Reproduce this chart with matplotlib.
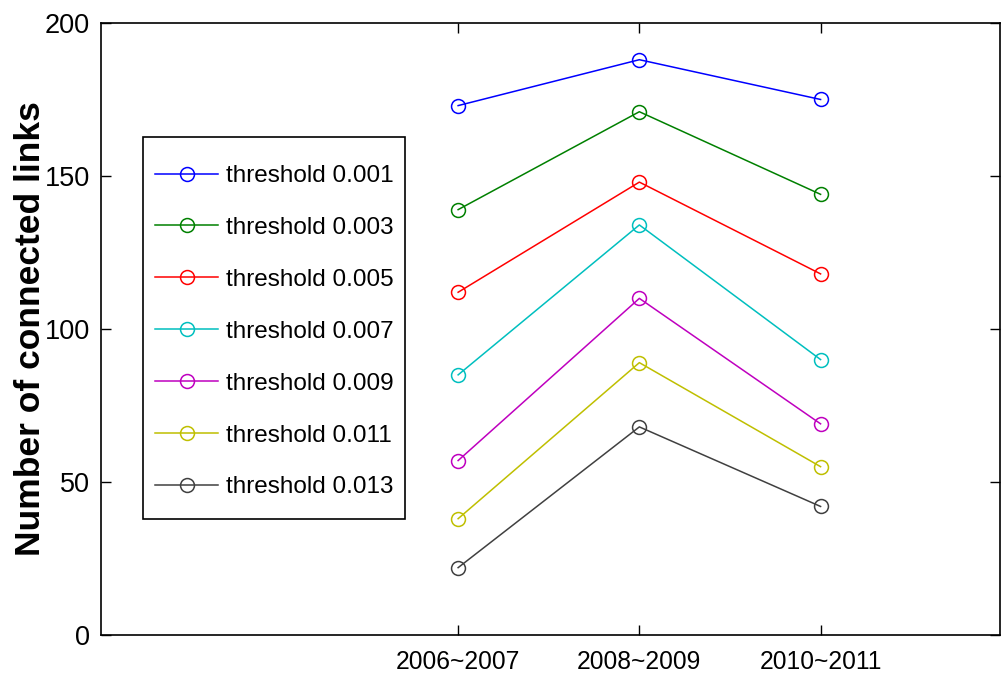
import matplotlib
matplotlib.use("Agg")
import matplotlib.pyplot as plt
from matplotlib.patches import Rectangle

# periods and number of connected links per threshold
periods = ["2006~2007", "2008~2009", "2010~2011"]
thresholds = ["threshold 0.001", "threshold 0.003", "threshold 0.005", "threshold 0.007",
              "threshold 0.009", "threshold 0.011", "threshold 0.013"]
links_001 = [173, 188, 175]
links_003 = [139, 171, 144]
links_005 = [112, 148, 118]
links_007 = [85, 134, 90]
links_009 = [57, 110, 69]
links_011 = [38, 89, 55]
links_013 = [22, 68, 42]
series = [links_001, links_003, links_005, links_007, links_009, links_011, links_013]

# old matlab line colours
colors = [(0, 0, 1), (0, 0.5, 0), (1, 0, 0), (0, 0.75, 0.75),
          (0.75, 0, 0.75), (0.75, 0.75, 0), (0.25, 0.25, 0.25)]

xpos = [2, 3, 4]
fam = ["Liberation Sans", "DejaVu Sans"]

fig = plt.figure(figsize=(10.01, 6.76), dpi=100)
ax = fig.add_axes([0.101, 0.0607, 0.898, 0.9053])

for vals, lab, col in zip(series, thresholds, colors):
    ax.plot(xpos, vals, color=col, linewidth=1.1, marker="o", markersize=10,
            markerfacecolor="none", markeredgewidth=1.1, label=lab)

ax.set_xlim(0.03, 4.99)
ax.set_ylim(0, 200)
ax.set_xticks(xpos)
ax.set_xticklabels(periods, family=fam, fontsize=17.7)
ax.set_yticks([0, 50, 100, 150, 200])
ax.set_yticklabels(["0", "50", "100", "150", "200"], family=fam, fontsize=19.5)
ax.tick_params(direction="in", top=True, right=True, length=7, width=1)
ax.tick_params(axis="x", pad=11)
ax.tick_params(axis="y", pad=8)
for s in ax.spines.values():
    s.set_linewidth(1.2)

ax.set_ylabel("Number of connected links", fontsize=25.5, fontweight="bold", family=fam)
ax.yaxis.set_label_coords(-0.06, 0.5)

# legend box drawn by hand so it can be taller than the default padding gives
ax.add_patch(Rectangle((0.0467, 0.190), 0.2914, 0.624, transform=ax.transAxes,
                       facecolor="white", edgecolor="black", linewidth=1.2, zorder=4))
leg = ax.legend(loc="center left", bbox_to_anchor=(0.0467, 0.4955), frameon=False,
                borderaxespad=0, prop={"family": fam, "size": 17.5},
                handlelength=2.6, labelspacing=1.23, handletextpad=0.3, borderpad=0.5)
leg.set_zorder(5)

fig.savefig("out.png", dpi=100)
